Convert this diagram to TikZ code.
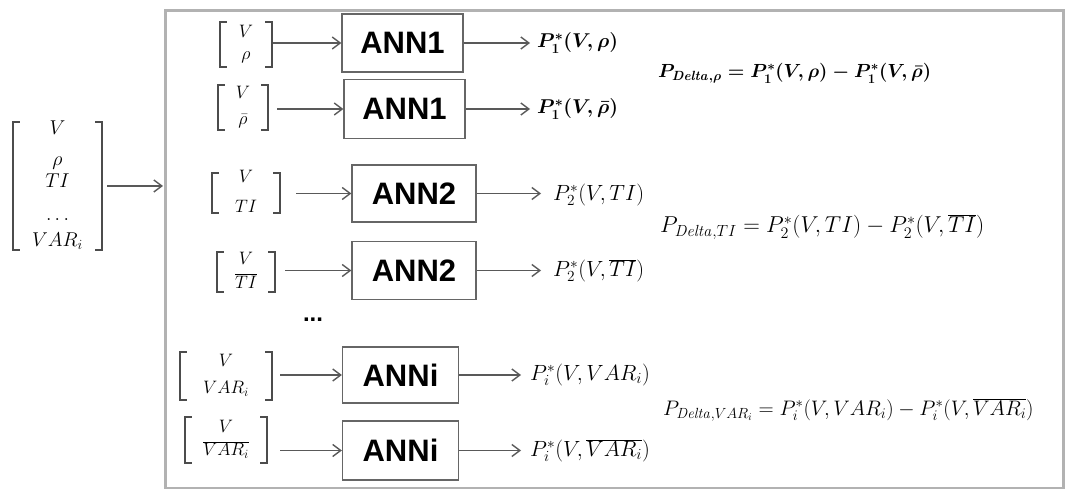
\documentclass[tikz,border=0pt]{standalone}
\usepackage{fix-cm}
\usepackage[no-math]{fontspec}
\newfontfamily\annfont{Liberation Sans}
\usetikzlibrary{arrows.meta}
\newcommand{\bracketsof}[1]{%
  \draw[brk] ([xshift=7pt]#1.north west) -- (#1.north west) -- (#1.south west) -- ([xshift=7pt]#1.south west);
  \draw[brk] ([xshift=-7pt]#1.north east) -- (#1.north east) -- (#1.south east) -- ([xshift=-7pt]#1.south east);}
% vertically centred stack that does not change the size of its node
\newcommand{\stk}[2][4.5pt]{\smash{\raisebox{-#1}{$\begin{array}{c}#2\end{array}$}}}
\tikzset{
  frame/.style={draw=black!30, line width=3pt, inner sep=0},
  ann/.style={draw=black!60, line width=1.3pt, inner sep=0,
    font=\annfont\fontsize{31}{36}\selectfont\bfseries},
  vecn/.style={inner sep=0, font=\fontsize{18}{22}\selectfont},
  vecl/.style={inner sep=0, font=\fontsize{20}{24}\selectfont},
  brk/.style={draw=black!70, line width=2.5pt},
  arr/.style={draw=black!65, line width=1.4pt, -{Straight Barb[length=8pt,width=12pt]}},
  outl/.style={anchor=west, inner sep=0, font=\fontsize{22}{26}\selectfont},
  outb/.style={anchor=west, inner sep=0, font=\fontsize{20}{24}\selectfont\boldmath},
  formula/.style={anchor=west, inner sep=0},
}
\begin{document}
\begin{tikzpicture}[x=1pt,y=-1pt]
\useasboundingbox (0,0) rectangle (1069,489);
% frame
\node[frame, minimum width=898, minimum height=478, anchor=north west] (fr) at (164,9) {};
% left input vector
\node[vecl, minimum width=89, minimum height=128] (v0) at (57.5,186)
  {\stk[5pt]{V\\[7pt] \rho\\[-2pt] TI\\[9pt] \dots\\[2pt] VAR_i}};
\bracketsof{v0}
\draw[arr, shorten <=5pt, shorten >=1pt] (v0.east) -- (v0.east -| fr.west);
% boxes
\node[ann, minimum width=121, minimum height=58] (b1) at (402.5,43) {ANN1};
\node[ann, minimum width=121, minimum height=59] (b2) at (404.5,109) {ANN1};
\node[ann, minimum width=124, minimum height=57] (b3) at (414,193.5) {ANN2};
\node[ann, minimum width=124, minimum height=58] (b4) at (414,270.5) {ANN2};
\node[ann, minimum width=116, minimum height=56] (b5) at (400.5,375) {ANNi};
\node[ann, minimum width=116, minimum height=59] (b6) at (400.5,450.5) {ANNi};
% input vectors
\node[vecn, minimum width=52, minimum height=45] (v1) at (246,44.5) {\stk{V\\ \rho}};
\node[vecn, minimum width=50, minimum height=45] (v2) at (243,107.5) {\stk{V\\[4pt] \bar\rho}};
\node[vecn, minimum width=68, minimum height=40] (v3) at (246,193) {\stk{V\\[8pt] TI}};
\node[vecn, minimum width=58, minimum height=40] (v4) at (246,272) {\stk{V\\[2pt] \overline{TI}}};
\node[vecn, minimum width=92, minimum height=48] (v5) at (226,376) {\stk{V\\[5pt] VAR_i}};
\node[vecn, minimum width=82, minimum height=46] (v6) at (226,440) {\stk{V\\[1pt] \overline{VAR_i}}};
\foreach \v in {v1,v2,v3,v4,v5,v6} {\bracketsof{\v}}
% input arrows
\draw[arr, shorten <=1pt] (v1.east |- b1.west) -- (b1.west);
\draw[arr, shorten <=9pt] (v2.east |- b2.west) -- (b2.west);
\draw[arr, shorten <=16pt] (v3.east |- b3.west) -- (b3.west);
\draw[arr, shorten <=10pt] (v4.east |- b4.west) -- (b4.west);
\draw[arr, shorten <=8pt] (v5.east |- b5.west) -- (b5.west);
\draw[arr, shorten <=13pt] (v6.east |- b6.west) -- (b6.west);
% outputs
\node[outb] (o1) at (537,43) {$P_1^*(V,\rho)$};
\node[outb] (o2) at (537,109) {$P_1^*(V,\bar\rho)$};
\node[outl] (o3) at (553,195) {$P_2^*(V,TI)$};
\node[outl] (o4) at (553,270.5) {$P_2^*(V,\overline{TI})$};
\node[outl] (o5) at (530,375) {$P_i^*(V,VAR_i)$};
\node[outl] (o6) at (530,450.5) {$P_i^*(V,\overline{VAR_i})$};
\draw[arr, shorten >=7pt] (b1.east) -- (b1.east -| o1.west);
\draw[arr, shorten >=7pt] (b2.east) -- (b2.east -| o2.west);
\draw[arr, shorten >=12pt] (b3.east) -- (b3.east -| o3.west);
\draw[arr, shorten >=12pt] (b4.east) -- (b4.east -| o4.west);
\draw[arr, shorten >=9pt] (b5.east) -- (b5.east -| o5.west);
\draw[arr, shorten >=9pt] (b6.east) -- (b6.east -| o6.west);
% dots
\node[inner sep=0, anchor=base, font=\annfont\bfseries\fontsize{24}{28}\selectfont] (dots) at (313,322) {...};
% formulas
\node[formula, font=\fontsize{19}{23}\selectfont\boldmath] (f1) at (658,73)
  {$P_{\mathit{Delta},\rho} = P_1^*(V,\rho) - P_1^*(V,\bar\rho)$};
\node[formula, font=\fontsize{23}{27}\selectfont] (f2) at (660,227)
  {$P_{\mathit{Delta},TI} = P_2^*(V,TI) - P_2^*(V,\overline{TI})$};
\node[formula, font=\fontsize{21}{25}\selectfont] (f3) at (663,410)
  {$P_{\mathit{Delta},VAR_i} = P_i^*(V,VAR_i) - P_i^*(V,\overline{VAR_i})$};
\end{tikzpicture}
\end{document}
